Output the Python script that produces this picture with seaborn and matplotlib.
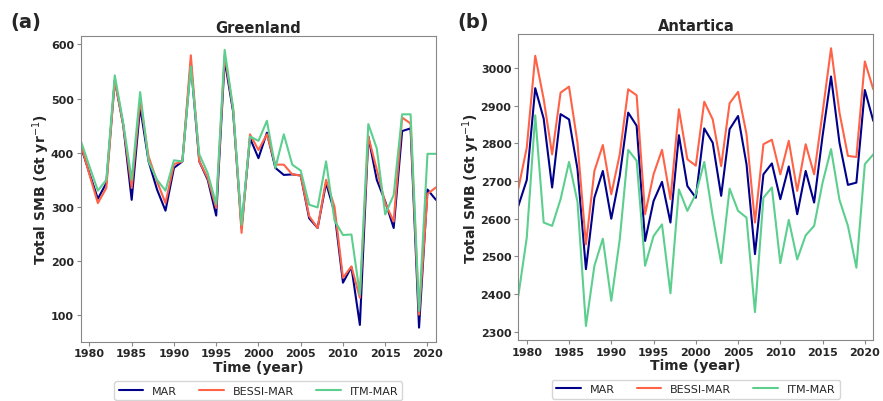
import numpy as np
import pandas as pd
import seaborn as sns
import matplotlib
matplotlib.use("Agg")
import matplotlib.pyplot as plt

years = list(range(1979, 2022))

# Greenland total SMB (Gt/yr)
gr_mar = [411, 362, 315, 344, 534, 451, 313, 485, 384, 332, 293, 372, 384, 565, 384, 350,
          284, 571, 476, 261, 427, 390, 437, 372, 359, 360, 358, 279, 261, 344, 290,
          160, 189, 82, 430, 350, 310, 261, 440, 445, 77, 332, 313]
gr_bessi = [415, 360, 307, 335, 534, 451, 335, 497, 393, 347, 307, 379, 384, 580, 384, 353,
            298, 580, 482, 252, 434, 405, 434, 378, 378, 360, 358, 283, 261, 350, 300,
            169, 190, 132, 430, 369, 307, 273, 465, 454, 101, 324, 336]
gr_itm = [421, 375, 330, 350, 543, 455, 350, 512, 384, 350, 330, 386, 384, 559, 397, 362,
          305, 590, 482, 267, 430, 422, 459, 372, 434, 378, 367, 304, 299, 384, 275,
          248, 249, 138, 453, 408, 286, 322, 471, 471, 108, 398, 398]

# Antarctica total SMB (Gt/yr)
an_mar = [2634, 2703, 2947, 2866, 2683, 2878, 2864, 2732, 2466, 2656, 2727, 2600, 2714, 2882,
          2847, 2541, 2647, 2698, 2590, 2822, 2687, 2656, 2840, 2802, 2661, 2838, 2873, 2745,
          2506, 2718, 2747, 2652, 2739, 2612, 2727, 2643, 2820, 2978, 2802, 2690, 2696, 2942, 2860]
an_bessi = [2680, 2789, 3033, 2918, 2771, 2935, 2951, 2802, 2532, 2727, 2796, 2665, 2771, 2944,
            2928, 2612, 2718, 2783, 2652, 2891, 2758, 2741, 2911, 2864, 2740, 2907, 2937, 2825,
            2590, 2798, 2810, 2718, 2807, 2674, 2798, 2718, 2882, 3053, 2882, 2767, 2764, 3018, 2944]
an_itm = [2395, 2550, 2875, 2590, 2581, 2652, 2751, 2645, 2315, 2475, 2547, 2382, 2545, 2783,
          2754, 2475, 2554, 2585, 2402, 2678, 2621, 2665, 2751, 2607, 2482, 2680, 2621, 2603,
          2352, 2656, 2683, 2482, 2597, 2492, 2556, 2581, 2696, 2785, 2650, 2581, 2470, 2745, 2771]

models = ["MAR", "BESSI-MAR", "ITM-MAR"]
colors = {"MAR": "#00008b", "BESSI-MAR": "#ff6347", "ITM-MAR": "#5ccf8f"}


def to_long(series):
    frames = []
    for name, vals in zip(models, series):
        frames.append(pd.DataFrame({"year": years, "smb": vals, "model": name}))
    return pd.concat(frames, ignore_index=True)


sns.set_style("white")
plt.rcParams["font.family"] = ["DejaVu Sans"]
plt.rcParams["axes.edgecolor"] = "#888888"

fig = plt.figure(figsize=(8.83, 4.02), dpi=100)
ax1 = fig.add_axes([0.0917, 0.148, 0.402, 0.760])
ax2 = fig.add_axes([0.587, 0.152, 0.402, 0.760])

panels = [
    (ax1, to_long([gr_mar, gr_bessi, gr_itm]), "Greenland", "(a)", 0.012),
    (ax2, to_long([an_mar, an_bessi, an_itm]), "Antartica", "(b)", 0.518),
]

for ax, df, title, tag, tag_x in panels:
    sns.lineplot(data=df, x="year", y="smb", hue="model", palette=colors,
                 hue_order=models, linewidth=1.5, ax=ax)
    ax.set_xlim(1979, 2021)
    ax.set_xticks([1980, 1985, 1990, 1995, 2000, 2005, 2010, 2015, 2020])
    ax.set_title(title, fontsize=10.5, fontweight="bold", pad=3)
    ax.set_xlabel("Time (year)", fontsize=10, fontweight="bold", labelpad=1)
    ax.set_ylabel("Total SMB (Gt yr$^{-1}$)", fontsize=10, fontweight="bold",
                  labelpad=-1)
    ax.tick_params(axis="both", labelsize=8, length=3, width=0.8,
                   color="#888888", bottom=True, left=True, pad=2)
    for lab in ax.get_xticklabels() + ax.get_yticklabels():
        lab.set_fontweight("bold")
    ax.legend(loc="upper center", bbox_to_anchor=(0.5, -0.112), ncol=3,
              fontsize=8, frameon=True, handlelength=2.2, handletextpad=0.8,
              columnspacing=2.0, borderpad=0.4)
    fig.text(tag_x, 0.945, tag, fontsize=14, fontweight="bold", va="center")

fig.savefig("out.png", dpi=100)
